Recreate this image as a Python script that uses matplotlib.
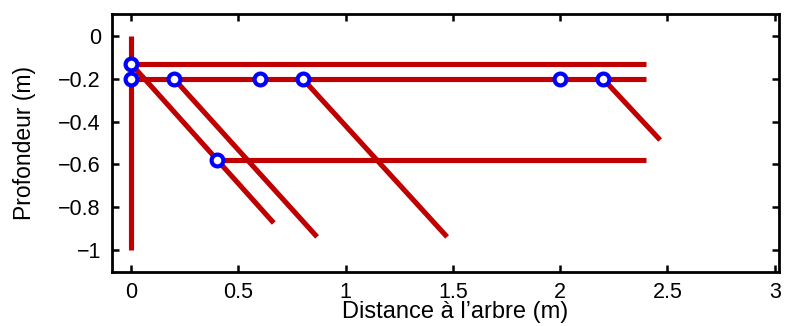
import matplotlib
matplotlib.use("Agg")
import matplotlib.pyplot as plt

plt.rcParams['font.family'] = ['Liberation Sans', 'DejaVu Sans']

# Root segments (start -> end)
seg_x0 = [0.0, 0.0, 0.0, 0.4, 0.0, 0.2, 0.8, 2.2]
seg_y0 = [0.0, -0.13, -0.2, -0.58, -0.13, -0.2, -0.2, -0.2]
seg_x1 = [0.0, 2.4, 2.4, 2.4, 0.665, 0.867, 1.473, 2.466]
seg_y1 = [-1.0, -0.13, -0.2, -0.58, -0.874, -0.939, -0.939, -0.486]

# Branching points
pt_x = [0.0, 0.0, 0.2, 0.6, 0.8, 2.0, 2.2, 0.4]
pt_y = [-0.13, -0.2, -0.2, -0.2, -0.2, -0.2, -0.2, -0.58]

xticks = [0, 0.5, 1, 1.5, 2, 2.5, 3]
xticklabels = ['0', '0.5', '1', '1.5', '2', '2.5', '3']
yticks = [0, -0.2, -0.4, -0.6, -0.8, -1]
yticklabels = ['0', '\u22120.2', '\u22120.4', '\u22120.6', '\u22120.8', '\u22121']

fig = plt.figure(figsize=(7.91, 3.26), dpi=100)
ax = fig.add_axes([0.1416, 0.1656, 0.8432, 0.7914])

for x0, y0, x1, y1 in zip(seg_x0, seg_y0, seg_x1, seg_y1):
    ax.plot([x0, x1], [y0, y1], color='#c00000', lw=3.7, solid_capstyle='butt', zorder=2)

ax.plot(pt_x, pt_y, 'o', ms=8.5, mfc='white', mec='#0000ff', mew=3.0, zorder=3)

ax.set_xlim(-0.089, 3.02)
ax.set_ylim(-1.103, 0.103)
ax.set_xticks(xticks)
ax.set_xticklabels(xticklabels)
ax.set_yticks(yticks)
ax.set_yticklabels(yticklabels)
ax.tick_params(direction='in', top=True, right=True, length=5, width=1.8, labelsize=15.5)
ax.tick_params(axis='y', pad=8)
ax.tick_params(axis='x', pad=7)
for s in ax.spines.values():
    s.set_linewidth(2.0)
ax.set_xlabel('Distance à l\u2019arbre (m)', fontsize=17)
ax.set_ylabel('Profondeur (m)', fontsize=16.5)
ax.xaxis.set_label_coords(0.514, -0.112)
ax.yaxis.set_label_coords(-0.114, 0.5)

fig.savefig('out.png', dpi=100)
